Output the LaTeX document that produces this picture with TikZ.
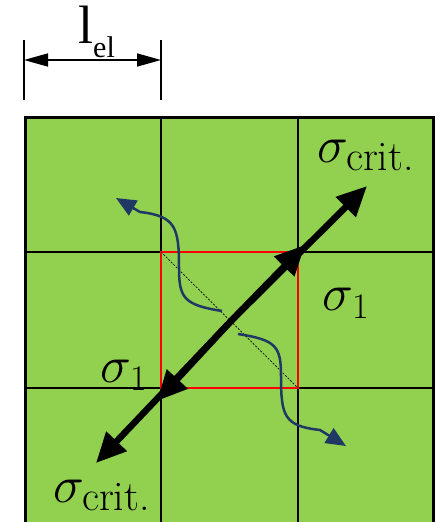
\RequirePackage{fix-cm}
\documentclass[tikz,border=0pt]{standalone}
\usepackage{fontspec}
\newfontfamily\timesf{Liberation Serif}
\usetikzlibrary{arrows.meta}
\definecolor{cellgreen}{HTML}{92D050}
\definecolor{crackblue}{HTML}{1F3864}
\tikzset{
  gridline/.style={line width=2pt,black},
  borderline/.style={line width=3pt,black},
  stressarrow/.style={line width=6.5pt,-{Triangle[length=30pt,width=27pt]}},
  crack/.style={line width=2.5pt,crackblue,-{Triangle[length=20pt,width=17pt]}},
  dimline/.style={line width=1.6pt},
  lbl/.style={inner sep=0pt}
}
\newcommand{\sigcrit}{\fontsize{52}{56}\selectfont$\sigma$\kern-2pt\raisebox{-0.16em}{\fontsize{42}{44}\selectfont crit.}}
\newcommand{\sigone}{\fontsize{52}{56}\selectfont$\sigma$\kern-1pt\raisebox{-0.16em}{\fontsize{36}{40}\selectfont 1}}
\begin{document}
\begin{tikzpicture}[x=1pt,y=-1pt]
\useasboundingbox (0,0) rectangle (444,522);
% grid
\fill[cellgreen] (25.5,117.5) rectangle (433,530);
\foreach \x in {161,298} \draw[gridline] (\x,117) -- (\x,530);
\foreach \y in {252,388} \draw[gridline] (25,\y) -- (433,\y);
\draw[borderline] (25.5,530) -- (25.5,117.5) -- (433,117.5) -- (433,530);
% red element
\draw[red,line width=2pt] (161,252) rectangle (298,388);
\draw[dashed,line width=0.7pt,dash pattern=on 2pt off 1.5pt] (161,252) -- (298,388);
% dimension
\coordinate (dl) at (24,60);
\coordinate (dr) at (161,60);
\draw[line width=1.3pt] (24,40) -- (24,100);
\draw[line width=1.3pt] (161,40) -- (161,100);
\draw[dimline,{Triangle[length=24pt,width=13pt]}-{Triangle[length=24pt,width=13pt]}] (dl) -- (dr);
\node[lbl,anchor=base west] (lel) at (78,43) {\timesf\fontsize{54}{56}\selectfont l\raisebox{-0.27em}{\fontsize{30}{32}\selectfont el}};
% stress arrows
\coordinate (c) at (231,321);
\coordinate (m1) at (305,245);
\coordinate (e1) at (367,186);
\coordinate (m2) at (157,401);
\coordinate (e2) at (96,463);
\draw[stressarrow] (c) -- (e1);
\draw[stressarrow] (c) -- (m1);
\draw[stressarrow] (c) -- (e2);
\draw[stressarrow] (c) -- (m2);
% cracks
\coordinate (s1) at (222,311);
\coordinate (t1) at (116,198);
\coordinate (s2) at (238,334);
\coordinate (t2) at (346,446);
\draw[crack] (s1) .. controls (184,305) and (179,298) .. (179,268) .. controls (179,228) and (176,216) .. (140,212) -- (t1);
\draw[crack] (s2) .. controls (276,340) and (281,346) .. (281,376) .. controls (281,416) and (284,426) .. (320,430) -- (t2);
% labels
\node[lbl,anchor=base west] (sc1) at (317,162) {\sigcrit};
\node[lbl,anchor=base west] (so1) at (322,310) {\sigone};
\node[lbl,anchor=base west] (so2) at (100,382) {\sigone};
\node[lbl,anchor=base west] (sc2) at (53,502) {\sigcrit};
\end{tikzpicture}
\end{document}
